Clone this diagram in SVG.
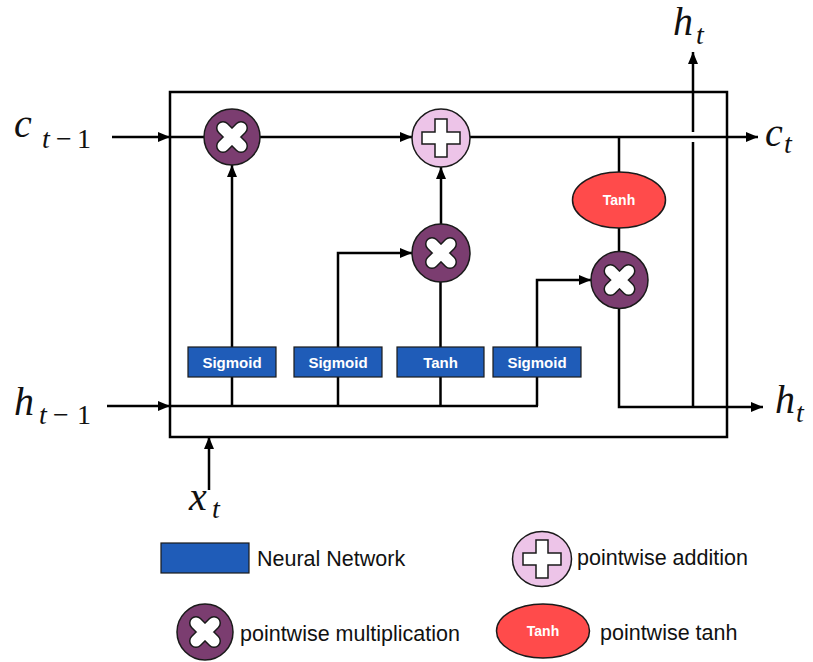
<svg xmlns="http://www.w3.org/2000/svg" xmlns:xlink="http://www.w3.org/1999/xlink" width="813" height="662" viewBox="0 0 813 662">
  <style>
    .wire { fill: none; stroke: #000; stroke-width: 2.5; }
    .arrow { marker-end: url(#head); }
    .cell { fill: #fff; stroke: #000; stroke-width: 2.5; }
    .nn { fill: #1f5cb8; stroke: #1a1a1a; stroke-width: 1.2; }
    .nn-label { font-family: "Liberation Sans", Arial, sans-serif; font-weight: bold; font-size: 15px; fill: #fff; text-anchor: middle; }
    .mul { fill: #7b3d70; stroke: #1a1a1a; stroke-width: 1.5; }
    .add { fill: #edc4e8; stroke: #1a1a1a; stroke-width: 1.5; }
    .tanh { fill: #ff4b4b; stroke: #1a1a1a; stroke-width: 1.5; }
    .tanh-label { font-family: "Liberation Sans", Arial, sans-serif; font-weight: bold; font-size: 14px; fill: #fff; text-anchor: middle; }
    .math { font-family: "Liberation Serif", "Times New Roman", serif; font-style: italic; fill: #111; font-size: 40px; }
    .math .sub { font-size: 28px; }
    .math .up { font-style: normal; }
    .legend { font-family: "Liberation Sans", Arial, sans-serif; font-size: 21.5px; fill: #111; }
  </style>
  <defs>
    <marker id="head" viewBox="0 0 12 10" refX="12" refY="5" markerWidth="12" markerHeight="10" markerUnits="userSpaceOnUse" orient="auto">
      <path d="M0,0 L12,5 L0,10 Z" fill="#000"/>
    </marker>
    <!-- white rounded X with dark outline -->
    <g id="xmark">
      <path d="M-9,-9 L9,9 M9,-9 L-9,9" stroke="#1a1a1a" stroke-width="14" stroke-linecap="round"/>
      <path d="M-9,-9 L9,9 M9,-9 L-9,9" stroke="#fff" stroke-width="11" stroke-linecap="round"/>
    </g>
    <!-- white plus with dark outline -->
    <path id="plusmark" d="M-6,-19 H6 V-6 H19 V6 H6 V19 H-6 V6 H-19 V-6 H-6 Z" fill="#fff" stroke="#1a1a1a" stroke-width="1.5"/>
  </defs>

  <!-- cell boundary -->
  <rect class="cell" x="170" y="92" width="557" height="345"/>

  <g id="connectors">
    <!-- cell state path -->
    <line class="wire arrow" x1="112" y1="137" x2="170" y2="137"/>
    <line class="wire" x1="170" y1="137" x2="204" y2="137"/>
    <line class="wire arrow" x1="260" y1="137" x2="412" y2="137"/>
    <line class="wire arrow" x1="470" y1="137" x2="758" y2="137"/>
    <!-- hidden/input bus -->
    <line class="wire arrow" x1="107" y1="406" x2="170" y2="406"/>
    <line class="wire" x1="170" y1="406" x2="538" y2="406"/>
    <line class="wire arrow" x1="209" y1="490" x2="209" y2="437"/>
    <!-- gate branches -->
    <line class="wire" x1="232" y1="406" x2="232" y2="377"/>
    <line class="wire" x1="338" y1="406" x2="338" y2="377"/>
    <line class="wire" x1="440.5" y1="406" x2="440.5" y2="377"/>
    <line class="wire" x1="537" y1="406" x2="537" y2="377"/>
    <line class="wire arrow" x1="232" y1="347" x2="232" y2="165"/>
    <polyline class="wire arrow" points="338,347 338,253 412,253"/>
    <line class="wire" x1="440.5" y1="347" x2="440.5" y2="282"/>
    <line class="wire arrow" x1="441" y1="224" x2="441" y2="167"/>
    <polyline class="wire arrow" points="537,347 537,280 591,280"/>
    <!-- output path -->
    <line class="wire" x1="619" y1="137" x2="619" y2="172"/>
    <line class="wire" x1="619" y1="228" x2="619" y2="252"/>
    <polyline class="wire arrow" points="619,308 619,407 763,407"/>
    <line class="wire" x1="693" y1="407" x2="693" y2="142"/>
    <line class="wire arrow" x1="693" y1="132" x2="693" y2="52"/>
  </g>

  <g id="forget-mul"><circle class="mul" cx="232" cy="137" r="28"/><use xlink:href="#xmark" x="232" y="137"/></g>
  <g id="cell-add"><circle class="add" cx="441" cy="138" r="29"/><use xlink:href="#plusmark" x="441" y="138"/></g>
  <g id="input-mul"><circle class="mul" cx="441" cy="253" r="29"/><use xlink:href="#xmark" x="441" y="253"/></g>
  <g id="cell-tanh"><ellipse class="tanh" cx="619" cy="200" rx="46.5" ry="28"/><text class="tanh-label" x="619" y="205">Tanh</text></g>
  <g id="output-mul"><circle class="mul" cx="619.5" cy="280" r="28.5"/><use xlink:href="#xmark" x="619.5" y="280"/></g>

  <g id="forget-gate"><rect class="nn" x="188" y="347" width="88" height="30"/><text class="nn-label" x="232" y="368">Sigmoid</text></g>
  <g id="input-gate"><rect class="nn" x="294" y="347" width="88" height="30"/><text class="nn-label" x="338" y="368">Sigmoid</text></g>
  <g id="candidate"><rect class="nn" x="397" y="347" width="87" height="30"/><text class="nn-label" x="440.5" y="368">Tanh</text></g>
  <g id="output-gate"><rect class="nn" x="493" y="347" width="88" height="30"/><text class="nn-label" x="537" y="368">Sigmoid</text></g>

  <!-- variable labels -->
  <g id="labels">
    <text class="math" x="14" y="137">c<tspan class="sub" x="42" y="148">t</tspan><tspan class="sub up" x="56" y="148">−</tspan><tspan class="sub up" x="77" y="148">1</tspan></text>
    <text class="math" x="14" y="415">h<tspan class="sub" x="39" y="424">t</tspan><tspan class="sub up" x="53" y="424">−</tspan><tspan class="sub up" x="77" y="424">1</tspan></text>
    <text class="math" x="189" y="510">x<tspan class="sub" x="212" y="518">t</tspan></text>
    <text class="math" x="673" y="35">h<tspan class="sub" x="696" y="44">t</tspan></text>
    <text class="math" x="765" y="146">c<tspan class="sub" x="784" y="153">t</tspan></text>
    <text class="math" x="775" y="413">h<tspan class="sub" x="796" y="422">t</tspan></text>
  </g>

  <!-- legend -->
  <g id="legend">
    <g id="legend-nn"><rect class="nn" x="161" y="543" width="88" height="30"/><text class="legend" x="257" y="566">Neural Network</text></g>
    <g id="legend-add"><ellipse class="add" cx="542" cy="559" rx="29.5" ry="27.5"/><use xlink:href="#plusmark" x="542" y="559"/><text class="legend" x="577" y="565">pointwise addition</text></g>
    <g id="legend-mul"><circle class="mul" cx="205" cy="632" r="28"/><use xlink:href="#xmark" x="205" y="632"/><text class="legend" x="240" y="641">pointwise multiplication</text></g>
    <g id="legend-tanh"><ellipse class="tanh" cx="543" cy="631" rx="46.5" ry="27"/><text class="tanh-label" x="543" y="636" font-size="13">Tanh</text><text class="legend" x="600" y="640">pointwise tanh</text></g>
  </g>
</svg>
